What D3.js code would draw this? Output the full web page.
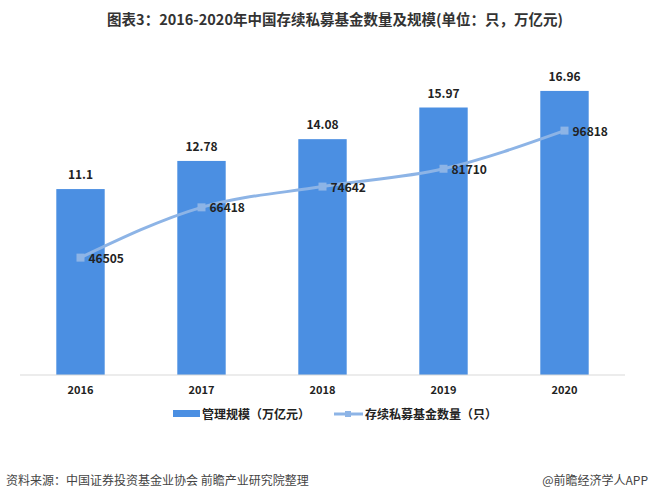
<!DOCTYPE html>
<html>
<head>
<meta charset="utf-8">
<title>存续私募基金数量及规模</title>
<script src="https://d3js.org/d3.v7.min.js"></script>
<style>
  body { margin: 0; background: #fff; }
  text { font-family: "Noto Sans CJK SC", "Microsoft YaHei", sans-serif; }
</style>
</head>
<body>
<svg id="chart"></svg>
<script>
// data
var years = ["2016", "2017", "2018", "2019", "2020"];
var scaleValues = [11.1, 12.78, 14.08, 15.97, 16.96];   // 管理规模（万亿元）
var fundCounts = [46505, 66418, 74642, 81710, 96818];  // 存续私募基金数量（只）

var width = 652, height = 501;
var svg = d3.select("#chart").attr("width", width).attr("height", height);

var left = 20, right = 625, baseY = 375;

var x = d3.scaleBand().domain(years).range([left, right]).paddingInner(0.6).paddingOuter(0.3);
var yBar = d3.scaleLinear().domain([0, 18]).range([baseY, baseY - 301.5]);
var yLine = d3.scaleLinear().domain([0, 120000]).range([baseY, baseY - 302.9]);

// title
svg.append("text").attr("x", 335).attr("y", 25).attr("text-anchor", "middle")
  .attr("font-size", 14.5).attr("font-weight", "bold").attr("fill", "#333")
  .text("图表3：2016-2020年中国存续私募基金数量及规模(单位：只，万亿元)");

// bars
svg.append("g").selectAll("rect").data(scaleValues).enter().append("rect")
  .attr("x", function (d, i) { return x(years[i]); })
  .attr("y", function (d) { return yBar(d); })
  .attr("width", x.bandwidth())
  .attr("height", function (d) { return baseY - yBar(d); })
  .attr("fill", "#4b8fe2");

svg.append("g").selectAll("text").data(scaleValues).enter().append("text")
  .attr("x", function (d, i) { return x(years[i]) + x.bandwidth() / 2; })
  .attr("y", function (d) { return yBar(d) - 10; })
  .attr("text-anchor", "middle").attr("font-size", 12).attr("font-weight", "bold")
  .attr("fill", "#222")
  .text(function (d) { return d; });

// x axis
var xAxis = svg.append("g").attr("transform", "translate(0," + baseY + ")")
  .call(d3.axisBottom(x).tickSize(0).tickPadding(11));
xAxis.select(".domain").attr("stroke", "#d9d9d9").attr("d", "M" + left + ",0H" + right);
xAxis.selectAll("text").attr("font-size", 11).attr("font-weight", "bold").attr("fill", "#222")
  .style("font-family", "'Noto Sans CJK SC', sans-serif");

// line
var cx = function (d, i) { return x(years[i]) + x.bandwidth() / 2; };
var line = d3.line().x(cx).y(function (d) { return yLine(d); }).curve(d3.curveMonotoneX);
svg.append("path").datum(fundCounts).attr("d", line)
  .attr("fill", "none").attr("stroke", "#8db4e6").attr("stroke-width", 3);
svg.append("g").selectAll("rect").data(fundCounts).enter().append("rect")
  .attr("x", function (d, i) { return cx(d, i) - 4; })
  .attr("y", function (d) { return yLine(d) - 4; })
  .attr("width", 8).attr("height", 8).attr("fill", "#8db4e6");
svg.append("g").selectAll("text").data(fundCounts).enter().append("text")
  .attr("x", function (d, i) { return cx(d, i) + 8; })
  .attr("y", function (d) { return yLine(d) + 5; })
  .attr("font-size", 12).attr("font-weight", "bold").attr("fill", "#222")
  .text(function (d) { return d; });

// legend
var lg = svg.append("g");
lg.append("rect").attr("x", 173).attr("y", 410).attr("width", 27).attr("height", 7).attr("fill", "#4b8fe2");
lg.append("text").attr("x", 202).attr("y", 419).attr("font-size", 12).attr("font-weight", "bold")
  .attr("fill", "#222").text("管理规模（万亿元）");
lg.append("line").attr("x1", 334).attr("x2", 363).attr("y1", 414).attr("y2", 414)
  .attr("stroke", "#8db4e6").attr("stroke-width", 3);
lg.append("rect").attr("x", 345).attr("y", 411).attr("width", 6).attr("height", 6).attr("fill", "#8db4e6");
lg.append("text").attr("x", 365).attr("y", 419).attr("font-size", 12).attr("font-weight", "bold")
  .attr("fill", "#222").text("存续私募基金数量（只）");

// footer
svg.append("text").attr("x", 6).attr("y", 485).attr("font-size", 12).attr("fill", "#444")
  .text("资料来源：中国证券投资基金业协会 前瞻产业研究院整理");
svg.append("text").attr("x", 648).attr("y", 485).attr("text-anchor", "end")
  .attr("font-size", 12).attr("fill", "#444").text("@前瞻经济学人APP");
</script>
</body>
</html>
